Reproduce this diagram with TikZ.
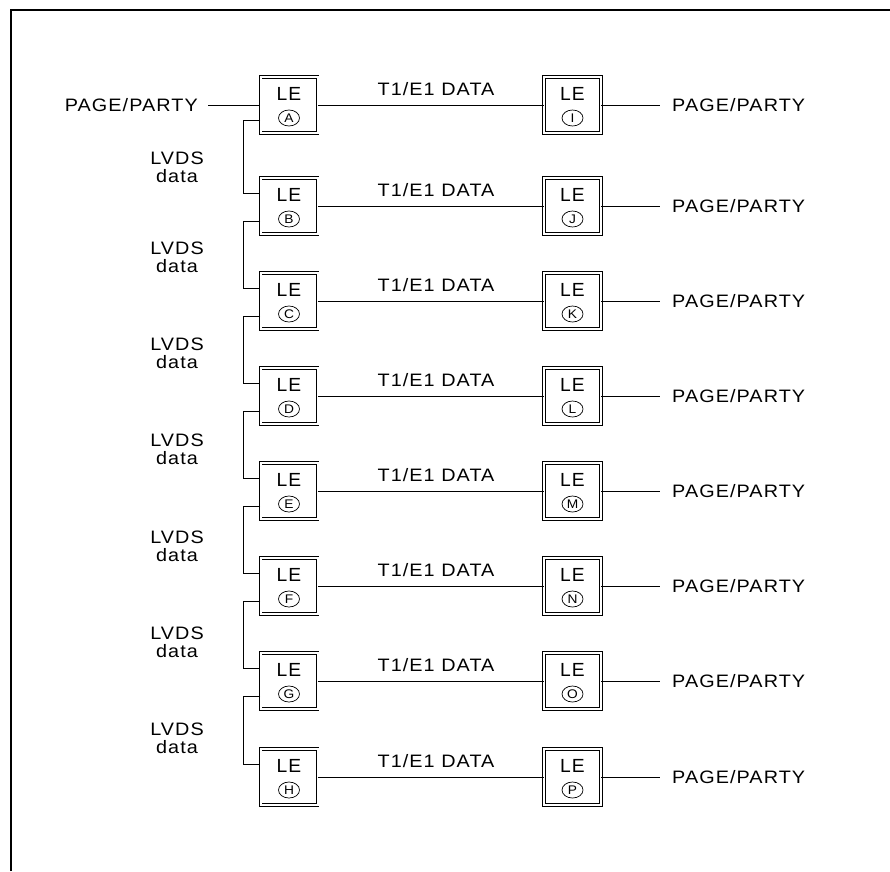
\documentclass[tikz,border=0pt]{standalone}
\usepackage{fontspec}
\setmainfont{Liberation Sans}[FakeStretch=1.1,LetterSpace=6]
\usetikzlibrary{shapes.geometric}
\begin{document}
\begin{tikzpicture}[x=1pt,y=-1pt,
  lebox/.style={draw, double=white, double distance=2pt, line width=0.7pt,
    minimum width=57pt, minimum height=56pt, inner sep=0pt},
  lbl/.style={inner sep=0pt, font=\fontsize{18}{19}\selectfont},
  lelbl/.style={inner sep=0pt, font=\fontsize{19}{19}\selectfont, xscale=0.92},
  tag/.style={draw, ellipse, line width=0.7pt, minimum width=21pt, minimum height=16pt,
    inner sep=0pt, font=\fontsize{12.5}{12.5}\selectfont},
  conn/.style={line width=0.7pt}]
\useasboundingbox (0,0) rectangle (890,871);
\draw[line width=2.5pt] (11,871) -- (11,10) -- (890,10);
\foreach \l/\r/\y in {A/I/105,B/J/206,C/K/301,D/L/396,E/M/491,F/N/586,G/O/681,H/P/777}{
  \node[lebox] (\l) at (289,\y) {};
  \node[lelbl] (LE\l) at ([yshift=11pt]\l.center) {LE};
  \node[tag] (c\l) at ([yshift=-13pt]\l.center) {\l};
  \node[lebox] (\r) at (572.5,\y) {};
  \node[lelbl] (LE\r) at ([yshift=11pt]\r.center) {LE};
  \node[tag] (c\r) at ([yshift=-13pt]\r.center) {\r};
  \node[lbl] (T\l) at (436,\y-16) {T1/E1 DATA};
  \draw[conn] (\l) -- (\r);
  \node[lbl, anchor=west] (P\r) at (672,\y) {PAGE/PARTY};
  \draw[conn] (\r) -- ([xshift=-12pt]P\r.west);
}
\node[lbl, anchor=east] (PL) at (198,105) {PAGE/PARTY};
\draw[conn] ([xshift=10pt]PL.east) -- (A);
\foreach \a/\b/\ly in {A/B/167,B/C/257,C/D/353,D/E/449,E/F/546,F/G/642,G/H/738}{
  \draw[conn] ([yshift=-15pt]\a.west) -- ++(-17,0) |- ([yshift=13pt]\b.west);
  \node[lbl] (LV\a) at (177,\ly-9) {LVDS};
  \node[lbl] (DT\a) at (177,\ly+9) {data};
}
\end{tikzpicture}
\end{document}
